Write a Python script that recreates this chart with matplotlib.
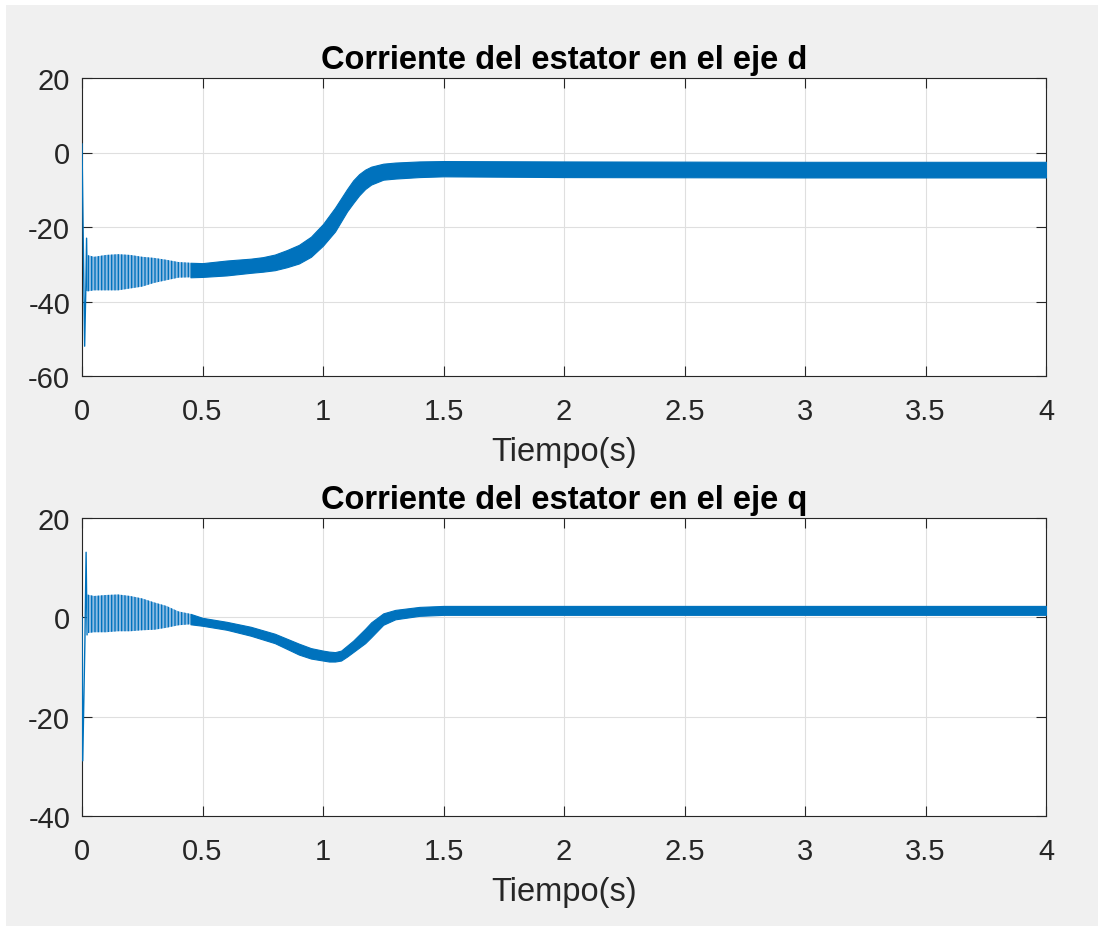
import matplotlib
matplotlib.use("Agg")
import matplotlib.pyplot as plt
import numpy as np
from matplotlib.patches import Rectangle

plt.rcParams['font.family'] = ['Liberation Sans', 'DejaVu Sans']
plt.rcParams['hatch.linewidth'] = 1.0

# ---------------- data ----------------
# Stator current, d axis: initial transient (single trace)
t_d_spike = [0.0, 0.011, 0.016, 0.019, 0.022]
i_d_spike = [2.3, -52.0, -36.0, -23.0, -37.0]
# d axis: envelope of the high-frequency ripple band
t_d = [0.022, 0.05, 0.1, 0.15, 0.2, 0.25, 0.3, 0.35, 0.4, 0.45, 0.5, 0.6, 0.7, 0.75,
       0.8, 0.85, 0.9, 0.95, 1.0, 1.05, 1.1, 1.125, 1.15, 1.175, 1.2, 1.25, 1.3, 1.4,
       1.5, 2.0, 3.0, 4.0]
i_d_upper = [-27.5, -28.0, -27.5, -27.3, -27.5, -28.0, -28.3, -28.8, -29.4, -29.6, -29.7,
             -29.0, -28.5, -28.1, -27.4, -26.2, -24.8, -22.6, -19.2, -14.8, -9.8, -7.5,
             -5.8, -4.6, -3.8, -3.0, -2.7, -2.4, -2.3, -2.4, -2.5, -2.5]
i_d_lower = [-37.3, -37.0, -37.0, -37.0, -36.5, -36.0, -35.0, -34.3, -33.6, -33.5, -33.4,
             -33.0, -32.3, -32.0, -31.6, -30.8, -29.8, -28.0, -25.0, -21.2, -15.8, -13.6,
             -11.5, -9.8, -8.6, -7.3, -7.0, -6.6, -6.4, -6.6, -6.7, -6.7]

# Stator current, q axis: initial transient
t_q_spike = [0.0, 0.003, 0.012, 0.017, 0.021]
i_q_spike = [0.0, -28.9, -5.0, 13.1, -3.5]
# q axis: ripple band envelope
t_q = [0.021, 0.05, 0.1, 0.15, 0.2, 0.25, 0.3, 0.35, 0.4, 0.45, 0.5, 0.6, 0.7,
       0.8, 0.9, 0.95, 1.0, 1.025, 1.05, 1.075, 1.1, 1.125, 1.15, 1.175, 1.2, 1.25,
       1.3, 1.4, 1.5, 2.0, 3.0, 4.0]
i_q_upper = [4.6, 4.3, 4.5, 4.6, 4.3, 3.8, 3.0, 2.3, 1.2, 0.7, -0.1, -0.9, -1.9,
             -3.3, -5.3, -6.2, -6.7, -6.9, -7.0, -6.7, -5.7, -4.7, -3.5, -2.3, -1.0,
             0.8, 1.5, 2.1, 2.3, 2.3, 2.3, 2.3]
i_q_lower = [-3.2, -3.0, -3.0, -2.8, -2.8, -2.6, -2.5, -2.1, -1.6, -1.4, -1.7, -2.5, -3.7,
             -5.2, -7.5, -8.3, -8.7, -8.9, -8.9, -8.7, -7.9, -7.0, -6.1, -5.2, -4.0,
             -1.5, -0.4, 0.3, 0.5, 0.5, 0.5, 0.5]

x_ticks = [0, 0.5, 1, 1.5, 2, 2.5, 3, 3.5, 4]
x_ticklabels = ['0', '0.5', '1', '1.5', '2', '2.5', '3', '3.5', '4']
yd_ticks = [-60, -40, -20, 0, 20]
yq_ticks = [-40, -20, 0, 20]
titles = ['Corriente del estator en el eje d', 'Corriente del estator en el eje q']
xlabel = 'Tiempo(s)'

# ---------------- styling ----------------
BLUE = '#0072BD'
LIGHT = '#8FBCE3'
TXT = '#262626'
W, H = 1099, 928
fig = plt.figure(figsize=(W / 100, H / 100), dpi=100, facecolor='white')
fig.patches.append(Rectangle((6 / W, 1 / H), 1092 / W, 921 / H, transform=fig.transFigure,
                             facecolor='#F0F0F0', edgecolor='none', zorder=-10))

ax1 = fig.add_axes([82 / W, 1 - 377 / H, 964 / W, 298 / H])
ax2 = fig.add_axes([82 / W, 1 - 817 / H, 964 / W, 298 / H])


def style(ax, yticks, title):
    ax.set_facecolor('white')
    ax.set_xlim(0, 4)
    ax.set_ylim(yticks[0], yticks[-1])
    ax.set_xticks(x_ticks)
    ax.set_xticklabels(x_ticklabels)
    ax.set_yticks(yticks)
    ax.set_yticklabels([str(v) for v in yticks])
    ax.grid(True, color='#DFDFDF', linewidth=0.8)
    ax.set_axisbelow(True)
    ax.tick_params(direction='in', length=7, width=0.8, color=TXT, labelcolor=TXT,
                   labelsize=21, top=True, right=True)
    ax.tick_params(axis='y', pad=8.5)
    ax.tick_params(axis='x', pad=15)
    for s in ax.spines.values():
        s.set_color(TXT)
        s.set_linewidth(0.8)
    ax.set_title(title, fontsize=23.5, fontweight='bold', color='black', pad=7.5)
    ax.set_xlabel(xlabel, fontsize=23.5, color=TXT, labelpad=8)


for ax, ts, vs, t, up, lo, yt, ti in [
        (ax1, t_d_spike, i_d_spike, t_d, i_d_upper, i_d_lower, yd_ticks, titles[0]),
        (ax2, t_q_spike, i_q_spike, t_q, i_q_upper, i_q_lower, yq_ticks, titles[1])]:
    style(ax, yt, ti)
    ax.plot(ts, vs, color=BLUE, linewidth=1.0, zorder=3)
    t = np.asarray(t)
    early = t <= 0.45
    late = t >= 0.45
    # early, loosely spaced ripple: light fill with vertical strokes
    ax.fill_between(t, lo, up, where=early, facecolor=LIGHT, edgecolor=BLUE,
                    hatch='|||||', linewidth=0.0, zorder=3)
    ax.fill_between(t, lo, up, where=late, facecolor=BLUE, edgecolor=BLUE,
                    linewidth=0.8, zorder=3)

fig.savefig('out.png', dpi=100, facecolor=fig.get_facecolor())
